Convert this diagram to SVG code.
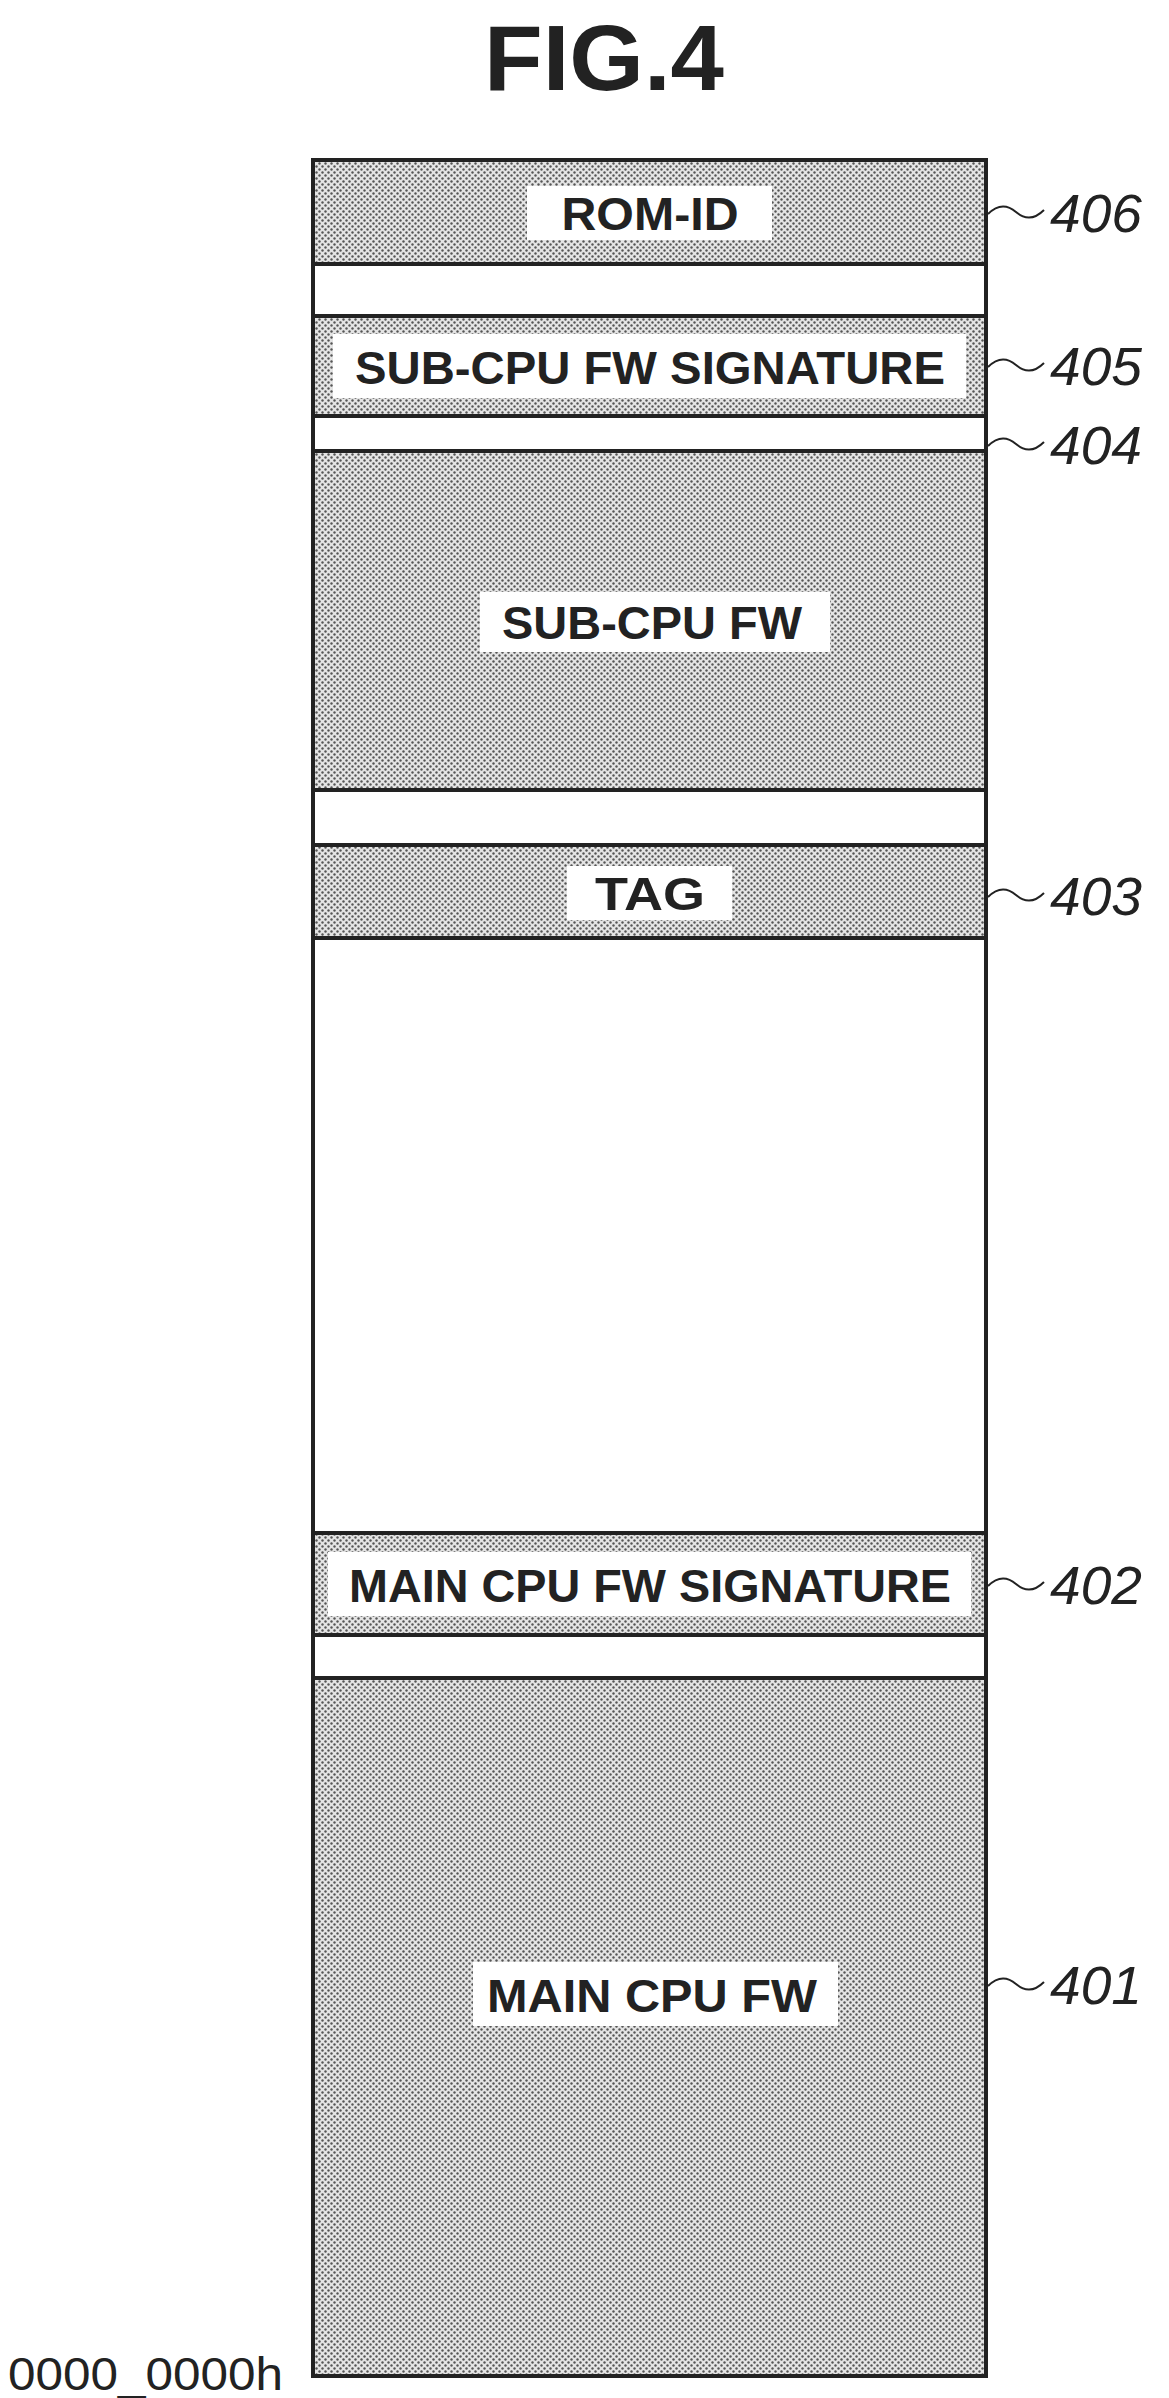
<svg xmlns="http://www.w3.org/2000/svg" width="1169" height="2398" viewBox="0 0 1169 2398">
<defs>
<pattern id="dots" width="6" height="6" patternUnits="userSpaceOnUse">
<rect width="6" height="6" fill="#e4e4e4"/>
<circle cx="1.5" cy="1.5" r="1.2" fill="#555"/>
<circle cx="4.5" cy="4.5" r="1.2" fill="#555"/>
</pattern>
</defs>
<style>
.blk{fill:url(#dots);stroke:#222;stroke-width:4}
.gap{fill:#fff;stroke:#222;stroke-width:4}
.lb{fill:#fff}
.t{font-family:"Liberation Sans",Arial,sans-serif;font-weight:bold;font-size:46px;fill:#222;text-anchor:middle}
.ref{font-family:"Liberation Sans",Arial,sans-serif;font-style:italic;font-size:54px;fill:#222}
.sq{fill:none;stroke:#222;stroke-width:2}
</style>
<text x="604" y="90" font-family="Liberation Sans,Arial,sans-serif" font-weight="bold" font-size="92" fill="#222" text-anchor="middle" textLength="240" lengthAdjust="spacingAndGlyphs">FIG.4</text>
<rect class="gap" x="313" y="160" width="673" height="2216"/>
<g id="n406"><rect class="blk" x="313" y="160" width="673" height="104"/><rect class="lb" x="527" y="186" width="245" height="54"/><text class="t" x="650" y="230" textLength="177" lengthAdjust="spacingAndGlyphs">ROM-ID</text></g>
<g id="n405"><rect class="blk" x="313" y="316" width="673" height="100"/><rect class="lb" x="333" y="334" width="633" height="64"/><text class="t" x="650" y="384" textLength="590" lengthAdjust="spacingAndGlyphs">SUB-CPU FW SIGNATURE</text></g>
<g id="n404"><rect class="blk" x="313" y="451" width="673" height="339"/><rect class="lb" x="480" y="592" width="350" height="60"/><text class="t" x="652" y="639" textLength="300" lengthAdjust="spacingAndGlyphs">SUB-CPU FW</text></g>
<g id="n403"><rect class="blk" x="313" y="845" width="673" height="93"/><rect class="lb" x="567" y="866" width="165" height="54"/><text class="t" x="650" y="910" textLength="110" lengthAdjust="spacingAndGlyphs">TAG</text></g>
<g id="n402"><rect class="blk" x="313" y="1533" width="673" height="102"/><rect class="lb" x="328" y="1552" width="643" height="64"/><text class="t" x="650" y="1602" textLength="602" lengthAdjust="spacingAndGlyphs">MAIN CPU FW SIGNATURE</text></g>
<g id="n401"><rect class="blk" x="313" y="1678" width="673" height="698"/><rect class="lb" x="473" y="1962" width="365" height="64"/><text class="t" x="652" y="2012" textLength="330" lengthAdjust="spacingAndGlyphs">MAIN CPU FW</text></g>
<g id="connectors">
<path class="sq" d="M988 214 q14 -14 28 -2 t28 -2"/>
<path class="sq" d="M988 367 q14 -14 28 -2 t28 -2"/>
<path class="sq" d="M988 446 q14 -14 28 -2 t28 -2"/>
<path class="sq" d="M988 897 q14 -14 28 -2 t28 -2"/>
<path class="sq" d="M988 1586 q14 -14 28 -2 t28 -2"/>
<path class="sq" d="M988 1986 q14 -14 28 -2 t28 -2"/>
</g>
<text class="ref" x="1050" y="232" textLength="92" lengthAdjust="spacingAndGlyphs">406</text>
<text class="ref" x="1050" y="385" textLength="92" lengthAdjust="spacingAndGlyphs">405</text>
<text class="ref" x="1050" y="464" textLength="92" lengthAdjust="spacingAndGlyphs">404</text>
<text class="ref" x="1050" y="915" textLength="92" lengthAdjust="spacingAndGlyphs">403</text>
<text class="ref" x="1050" y="1604" textLength="92" lengthAdjust="spacingAndGlyphs">402</text>
<text class="ref" x="1050" y="2004" textLength="92" lengthAdjust="spacingAndGlyphs">401</text>
<text x="8" y="2390" font-family="Liberation Sans,Arial,sans-serif" font-size="46" fill="#222" textLength="275" lengthAdjust="spacingAndGlyphs">0000_0000h</text>
</svg>
